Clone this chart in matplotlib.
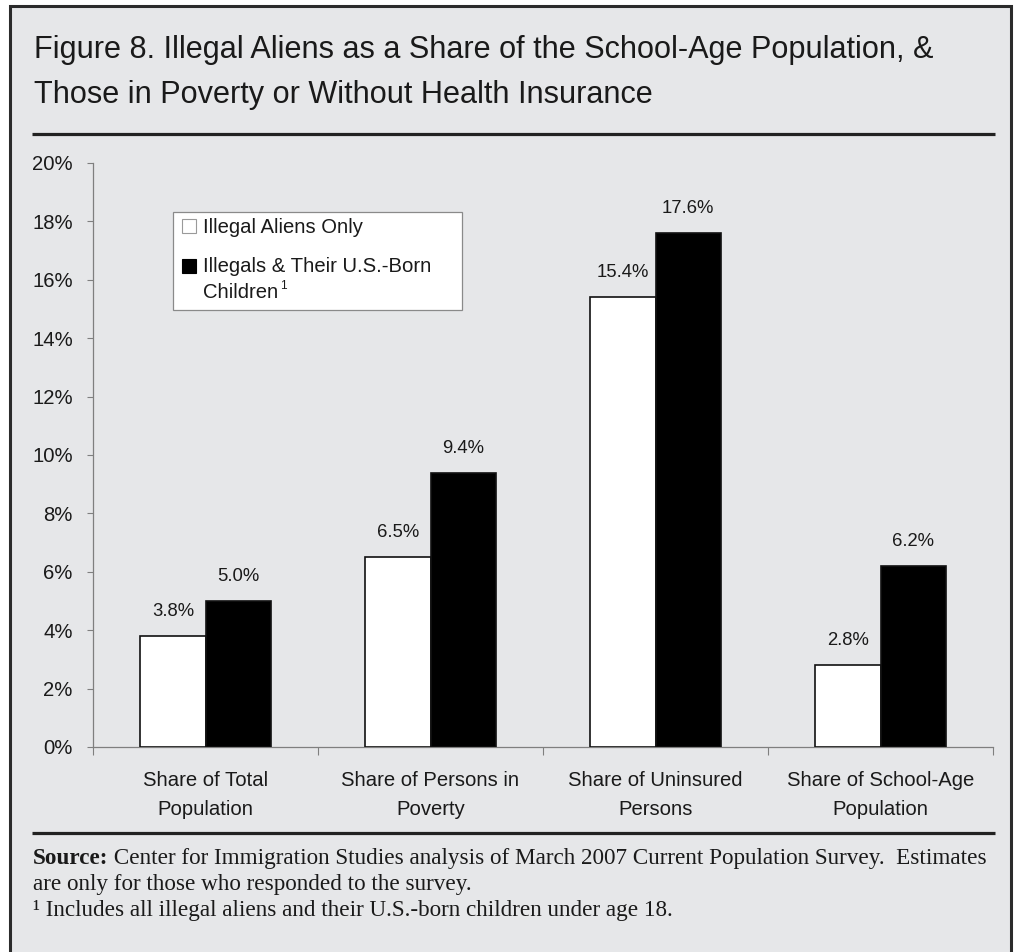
import matplotlib
matplotlib.use("Agg")
import matplotlib.pyplot as plt
from matplotlib.patches import Rectangle
from matplotlib.lines import Line2D

# ---- data -------------------------------------------------------------
categories = ["Share of Total\nPopulation", "Share of Persons in\nPoverty",
              "Share of Uninsured\nPersons", "Share of School-Age\nPopulation"]
illegal_only = [3.8, 6.5, 15.4, 2.8]
with_children = [5.0, 9.4, 17.6, 6.2]
series_labels = ["Illegal Aliens Only", "Illegals & Their U.S.-Born", "Children"]
y_ticks = [0, 2, 4, 6, 8, 10, 12, 14, 16, 18, 20]

title_lines = ["Figure 8. Illegal Aliens as a Share of the School-Age Population, &",
               "Those in Poverty or Without Health Insurance"]
source_bold = "Source:"
source_rest = (" Center for Immigration Studies analysis of March 2007 Current "
               "Population Survey.  Estimates")
source_line2 = "are only for those who responded to the survey."
footnote = "\u00b9 Includes all illegal aliens and their U.S.-born children under age 18."

# ---- figure -----------------------------------------------------------
W, H = 1016, 952
fig = plt.figure(figsize=(W / 100, H / 100), dpi=100, facecolor="white")
renderer = fig.canvas.get_renderer()
BG = "#e6e7e9"
INK = "#1a1a1a"
SANS = ["Liberation Sans", "Arial", "DejaVu Sans"]
NARROW = ["Liberation Sans Narrow", "Liberation Sans", "DejaVu Sans"]
SERIF = ["Liberation Serif", "DejaVu Serif"]


def fx(px):
    return px / W


def fy(py):
    return 1 - py / H


def fit_width(txt, target_px):
    """Rescale a text's font size so that it spans target_px horizontally."""
    wpx = txt.get_window_extent(renderer).width
    txt.set_fontsize(txt.get_fontsize() * target_px / wpx)
    return txt.get_fontsize()


# panel background with dark frame (open at the bottom edge of the page)
fig.add_artist(Rectangle((fx(10), fy(975)), fx(1001), 969 / H,
                         transform=fig.transFigure, facecolor=BG,
                         edgecolor="#2b2b2b", linewidth=2.2, zorder=0))

# title (two lines) and rules
t1 = fig.text(fx(34), fy(58), title_lines[0], family=NARROW, fontsize=25,
              color=INK, ha="left", va="baseline")
fs = fit_width(t1, 901)
fig.text(fx(34), fy(103), title_lines[1], family=NARROW, fontsize=fs,
         color=INK, ha="left", va="baseline")
for yy in (134, 833):
    fig.add_artist(Line2D([fx(32), fx(995)], [fy(yy), fy(yy)],
                          transform=fig.transFigure, color="#222222",
                          linewidth=2.3, solid_capstyle="butt"))

# ---- bars ---------------------------------------------------------------
ax = fig.add_axes([fx(93), fy(747), fx(993) - fx(93), fy(163) - fy(747)])
ax.set_facecolor("none")
x = list(range(len(categories)))
w = 0.29
ax.bar([i - w / 2 for i in x], illegal_only, width=w, color="white",
       edgecolor="#111111", linewidth=1.2, zorder=3)
ax.bar([i + w / 2 for i in x], with_children, width=w, color="black",
       edgecolor="#111111", linewidth=1.2, zorder=3)

for i, v in enumerate(illegal_only):
    ax.annotate(f"{v:.1f}%", (i - w / 2, v), xytext=(0, 14.4),
                textcoords="offset points", ha="center", va="baseline",
                family=SANS, fontsize=13.3, color=INK)
for i, v in enumerate(with_children):
    ax.annotate(f"{v:.1f}%", (i + w / 2, v), xytext=(0, 14.4),
                textcoords="offset points", ha="center", va="baseline",
                family=SANS, fontsize=13.3, color=INK)

ax.set_xlim(-0.5, len(categories) - 0.5)
ax.set_ylim(0, 20)
ax.set_yticks(y_ticks)
ax.set_yticklabels([f"{t}%" for t in y_ticks], family=SANS, fontsize=14.6,
                   color=INK)
ax.set_xticks([i - 0.5 for i in range(len(categories) + 1)])
ax.set_xticklabels([])
ax.set_xticks(x, minor=True)
ax.set_xticklabels(categories, minor=True, family=SANS, fontsize=14.6,
                   color=INK, linespacing=1.68)
ax.tick_params(axis="x", which="minor", length=0, pad=17)
ax.tick_params(axis="x", which="major", length=5.5, color="#7f7f7f",
               direction="out")
ax.tick_params(axis="y", length=4.5, color="#7f7f7f", pad=10)
for side in ("top", "right"):
    ax.spines[side].set_visible(False)
for side in ("left", "bottom"):
    ax.spines[side].set_color("#7f7f7f")
    ax.spines[side].set_linewidth(0.9)

# ---- legend -------------------------------------------------------------
fig.add_artist(Rectangle((fx(173), fy(310)), fx(462) - fx(173), (310 - 212) / H,
                         transform=fig.transFigure, facecolor="white",
                         edgecolor="#8a8a8a", linewidth=0.9, zorder=5))
fig.add_artist(Rectangle((fx(182), fy(233)), 14 / W, 14 / H,
                         transform=fig.transFigure, facecolor="white",
                         edgecolor="#9a9a9a", linewidth=0.8, zorder=6))
fig.add_artist(Rectangle((fx(182), fy(273)), 14 / W, 14 / H,
                         transform=fig.transFigure, facecolor="black",
                         edgecolor="black", linewidth=0.8, zorder=6))
fig.text(fx(203), fy(233), series_labels[0], family=SANS, fontsize=14.6,
         color=INK, va="baseline", zorder=7)
fig.text(fx(203), fy(272), series_labels[1], family=SANS, fontsize=14.6,
         color=INK, va="baseline", zorder=7)
t3 = fig.text(fx(203), fy(298), series_labels[2], family=SANS, fontsize=14.6,
              color=INK, va="baseline", zorder=7)
bb = t3.get_window_extent(renderer)
fig.text(bb.x1 / W + fx(2), fy(289), "1", family=SANS, fontsize=8.5,
         color=INK, va="baseline", zorder=7)

# ---- source -------------------------------------------------------------
s1 = fig.text(fx(33), fy(864), source_bold, family=SERIF, fontsize=14,
              weight="bold", color=INK, va="baseline")
s2 = fig.text(fx(33), fy(864), source_rest, family=SERIF, fontsize=14,
              color=INK, va="baseline")
# fit the full first source line to the panel width
total = (s1.get_window_extent(renderer).width
         + s2.get_window_extent(renderer).width)
sfs = 14 * 960 / total
s1.set_fontsize(sfs)
s2.set_fontsize(sfs)
s2.set_x(s1.get_window_extent(renderer).x1 / W)
fig.text(fx(33), fy(890), source_line2, family=SERIF, fontsize=sfs,
         color=INK, va="baseline")
fig.text(fx(33), fy(916), footnote, family=SERIF, fontsize=sfs,
         color=INK, va="baseline")

fig.savefig("out.png", dpi=100, facecolor="white")
